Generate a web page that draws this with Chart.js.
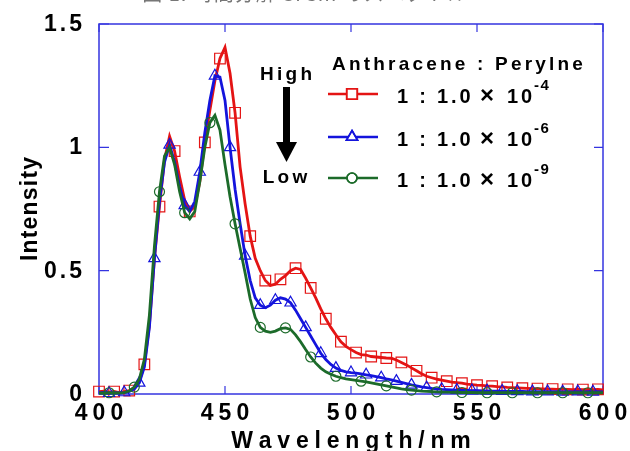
<!DOCTYPE html>
<html>
<head>
<meta charset="utf-8">
<script src="https://cdn.jsdelivr.net/npm/chart.js@4.4.0/dist/chart.umd.min.js"></script>
<style>
  html, body { margin: 0; padding: 0; background: #fff; }
</style>
</head>
<body>
<canvas id="spectrumChart" width="630" height="451"></canvas>
<script>
// wavelength (nm), 2 nm step
var wavelengths = [400, 402, 404, 406, 408, 410, 412, 414, 416, 418,
    420, 422, 424, 426, 428, 430, 432, 434, 436, 438,
    440, 442, 444, 446, 448, 450, 452, 454, 456, 458,
    460, 462, 464, 466, 468, 470, 472, 474, 476, 478,
    480, 482, 484, 486, 488, 490, 492, 494, 496, 498,
    500, 502, 504, 506, 508, 510, 512, 514, 516, 518,
    520, 522, 524, 526, 528, 530, 532, 534, 536, 538,
    540, 542, 544, 546, 548, 550, 552, 554, 556, 558,
    560, 562, 564, 566, 568, 570, 572, 574, 576, 578,
    580, 582, 584, 586, 588, 590, 592, 594, 596, 598, 600];

// 1 : 1.0 x 10^-4
var ratio4 = [0.010, 0.012, 0.008, 0.010, 0.006, 0.010, 0.014, 0.025, 0.050, 0.120,
    0.280, 0.550, 0.760, 0.950, 1.045, 0.985, 0.880, 0.785, 0.740, 0.760,
    0.860, 1.020, 1.150, 1.270, 1.360, 1.405, 1.300, 1.140, 0.920, 0.770,
    0.640, 0.550, 0.500, 0.460, 0.440, 0.445, 0.465, 0.480, 0.500, 0.510,
    0.505, 0.470, 0.430, 0.390, 0.345, 0.305, 0.270, 0.240, 0.212, 0.193,
    0.180, 0.168, 0.160, 0.158, 0.152, 0.150, 0.148, 0.146, 0.145, 0.138,
    0.128, 0.118, 0.106, 0.094, 0.082, 0.072, 0.066, 0.060, 0.056, 0.052,
    0.048, 0.046, 0.044, 0.040, 0.038, 0.036, 0.035, 0.033, 0.032, 0.030,
    0.029, 0.027, 0.026, 0.025, 0.024, 0.023, 0.022, 0.022, 0.021, 0.020,
    0.020, 0.019, 0.020, 0.019, 0.018, 0.019, 0.018, 0.019, 0.018, 0.019, 0.017];

// 1 : 1.0 x 10^-6
var ratio6 = [0.004, 0.006, 0.003, 0.005, 0.004, 0.006, 0.010, 0.020, 0.045, 0.110,
    0.270, 0.550, 0.780, 0.940, 1.010, 0.940, 0.840, 0.765, 0.740, 0.780,
    0.900, 1.060, 1.190, 1.290, 1.285, 1.190, 1.000, 0.830, 0.690, 0.560,
    0.460, 0.390, 0.360, 0.350, 0.360, 0.380, 0.390, 0.385, 0.370, 0.340,
    0.305, 0.270, 0.235, 0.200, 0.165, 0.140, 0.120, 0.105, 0.096, 0.090,
    0.087, 0.085, 0.082, 0.078, 0.074, 0.070, 0.066, 0.061, 0.057, 0.052,
    0.047, 0.042, 0.037, 0.033, 0.029, 0.026, 0.023, 0.021, 0.019, 0.018,
    0.017, 0.016, 0.015, 0.015, 0.014, 0.014, 0.013, 0.013, 0.012, 0.012,
    0.012, 0.011, 0.011, 0.011, 0.011, 0.010, 0.010, 0.010, 0.010, 0.010,
    0.010, 0.010, 0.009, 0.010, 0.009, 0.010, 0.009, 0.010, 0.009, 0.010, 0.009];

// 1 : 1.0 x 10^-9
var ratio9 = [0.004, 0.003, 0.005, 0.004, 0.004, 0.006, 0.012, 0.028, 0.060, 0.140,
    0.320, 0.600, 0.820, 0.965, 1.000, 0.930, 0.820, 0.735, 0.710, 0.740,
    0.860, 1.000, 1.100, 1.130, 1.070, 0.930, 0.800, 0.690, 0.590, 0.490,
    0.385, 0.310, 0.270, 0.255, 0.250, 0.255, 0.265, 0.268, 0.262, 0.240,
    0.212, 0.180, 0.150, 0.125, 0.105, 0.090, 0.080, 0.072, 0.066, 0.061,
    0.058, 0.055, 0.052, 0.049, 0.045, 0.041, 0.037, 0.033, 0.029, 0.025,
    0.021, 0.018, 0.016, 0.014, 0.012, 0.011, 0.010, 0.009, 0.008, 0.008,
    0.007, 0.007, 0.006, 0.006, 0.006, 0.005, 0.005, 0.005, 0.005, 0.005,
    0.005, 0.005, 0.005, 0.005, 0.005, 0.005, 0.005, 0.005, 0.005, 0.005,
    0.005, 0.005, 0.005, 0.005, 0.005, 0.005, 0.005, 0.005, 0.005, 0.005, 0.005];

var xTicks = [400, 450, 500, 550, 600];
var yTicks = [0, 0.5, 1, 1.5];
var yTickLabels = ['0', '0.5', '1', '1.5'];
var seriesNames = ['-4', '-6', '-9'];

var BOLD = '"Liberation Sans", Arial, sans-serif';
var FRAME = '#3434e0';

function toPoints(vals) {
    return vals.map(function (v, i) { return { x: wavelengths[i], y: v }; });
}

// draw text with extra letter spacing
function spacedText(ctx, str, x, y, gap, align) {
    var chars = str.split('');
    var widths = chars.map(function (c) { return ctx.measureText(c).width; });
    var total = widths.reduce(function (a, b) { return a + b; }, 0) + gap * (chars.length - 1);
    var cx = align === 'center' ? x - total / 2 : (align === 'right' ? x - total : x);
    ctx.textAlign = 'left';
    chars.forEach(function (c, i) {
        ctx.fillText(c, cx, y);
        cx += widths[i] + gap;
    });
}

var series = [
    { data: ratio4, color: '#e41414', style: 'rect', radius: 7.5, every: 3, offset: 0, order: 2 },
    { data: ratio6, color: '#1414dc', style: 'triangle', radius: 6.5, every: 3, offset: 2, order: 1 },
    { data: ratio9, color: '#1c6b2a', style: 'circle', radius: 5, every: 5, offset: 2, order: 0 }
];

var framePlugin = {
    id: 'frame',
    beforeDatasetsDraw: function (chart) {
        var ctx = chart.ctx, a = chart.chartArea;
        var xs = chart.scales.x, ys = chart.scales.y;
        ctx.save();
        ctx.strokeStyle = FRAME;
        ctx.lineWidth = 1.5;
        ctx.strokeRect(a.left, a.top, a.right - a.left, a.bottom - a.top);
        ctx.lineWidth = 1.2;
        ctx.beginPath();
        xTicks.forEach(function (t) {
            var px = xs.getPixelForValue(t);
            ctx.moveTo(px, a.bottom); ctx.lineTo(px, a.bottom - 8);
            ctx.moveTo(px, a.top); ctx.lineTo(px, a.top + 8);
        });
        yTicks.forEach(function (t) {
            var py = ys.getPixelForValue(t);
            ctx.moveTo(a.left, py); ctx.lineTo(a.left + 10, py);
            ctx.moveTo(a.right, py); ctx.lineTo(a.right - 9, py);
        });
        ctx.stroke();
        ctx.restore();
    },
    afterDraw: function (chart) {
        var ctx = chart.ctx, a = chart.chartArea;
        var xs = chart.scales.x, ys = chart.scales.y;
        ctx.save();
        ctx.textBaseline = 'alphabetic';

        // cut-off caption at top
        ctx.font = '20px "Noto Sans CJK JP", sans-serif';
        ctx.fillStyle = '#777';
        spacedText(ctx, '図 1. 時間分解 SrCm のスペクトル', 305, 1, 1, 'center');
        ctx.fillStyle = '#000';

        // tick labels
        ctx.font = 'bold 23px ' + BOLD;
        xTicks.forEach(function (t) {
            spacedText(ctx, String(t), xs.getPixelForValue(t), 420, 5, 'center');
        });
        yTicks.forEach(function (t, i) {
            var py = ys.getPixelForValue(t);
            spacedText(ctx, yTickLabels[i], 82, py + 7, 3, 'right');
        });

        // axis titles
        spacedText(ctx, 'Wavelength/nm', (a.left + a.right) / 2, 448, 5.8, 'center');
        ctx.save();
        ctx.translate(37, (a.top + a.bottom) / 2);
        ctx.rotate(-Math.PI / 2);
        spacedText(ctx, 'Intensity', 0, 0, 1.2, 'center');
        ctx.restore();

        // legend
        ctx.font = 'bold 19px ' + BOLD;
        spacedText(ctx, 'Anthracene : Perylne', 332, 70, 3.2, 'left');
        var rows = [94, 137, 178];
        series.forEach(function (s, i) {
            var y = rows[i];
            ctx.strokeStyle = s.color;
            ctx.lineWidth = 2.5;
            ctx.beginPath();
            ctx.moveTo(328, y); ctx.lineTo(378, y);
            ctx.stroke();
            ctx.lineWidth = 1.6;
            ctx.fillStyle = '#fff';
            Chart.helpers.drawPoint(ctx, { pointStyle: s.style, radius: s.radius, rotation: 0, borderWidth: 1.6 }, 352, y);
            ctx.stroke();
            ctx.fillStyle = '#000';
            ctx.font = 'bold 20px ' + BOLD;
            spacedText(ctx, '1 : 1.0', 397, y + 9, 2.8, 'left');
            ctx.font = 'bold 24px ' + BOLD;
            spacedText(ctx, '\u00d7', 480, y + 9, 0, 'left');
            ctx.font = 'bold 20px ' + BOLD;
            spacedText(ctx, '10', 507, y + 9, 2.8, 'left');
            ctx.font = 'bold 15px ' + BOLD;
            spacedText(ctx, seriesNames[i], 534, y - 4, 1.5, 'left');
        });

        // High -> Low arrow
        ctx.font = 'bold 19px ' + BOLD;
        spacedText(ctx, 'High', 286, 80, 3.3, 'center');
        spacedText(ctx, 'Low', 285, 183, 3.3, 'center');
        ctx.fillRect(283, 87, 7, 56);
        ctx.beginPath();
        ctx.moveTo(276, 142); ctx.lineTo(297, 142); ctx.lineTo(286.5, 162);
        ctx.closePath();
        ctx.fill();
        ctx.restore();
    }
};

var ctx = document.getElementById('spectrumChart');
var myChart = new Chart(ctx, {
    type: 'line',
    data: {
        datasets: series.map(function (s) {
            return {
                data: toPoints(s.data),
                borderColor: s.color,
                borderWidth: 2.8,
                tension: 0,
                order: s.order,
                clip: false,
                pointStyle: s.style,
                pointBorderColor: s.color,
                pointBackgroundColor: 'rgba(0,0,0,0)',
                pointBorderWidth: 1.2,
                pointRadius: function (c) {
                    return c.dataIndex % s.every === s.offset ? s.radius : 0;
                }
            };
        })
    },
    options: {
        responsive: false,
        devicePixelRatio: 1,
        animation: false,
        layout: { padding: { top: 24, right: 27, left: 0, bottom: 0 } },
        plugins: {
            legend: { display: false },
            tooltip: { enabled: false }
        },
        scales: {
            x: {
                type: 'linear',
                min: 400,
                max: 600,
                afterBuildTicks: function (scale) {
                    scale.ticks = xTicks.map(function (v) { return { value: v }; });
                },
                afterFit: function (scale) { scale.height = 57; },
                grid: { display: false },
                border: { display: false },
                ticks: { display: false }
            },
            y: {
                min: 0,
                max: 1.5,
                afterBuildTicks: function (scale) {
                    scale.ticks = yTicks.map(function (v) { return { value: v }; });
                },
                afterFit: function (scale) { scale.width = 99; },
                grid: { display: false },
                border: { display: false },
                ticks: { display: false }
            }
        }
    },
    plugins: [framePlugin]
});
</script>
</body>
</html>
